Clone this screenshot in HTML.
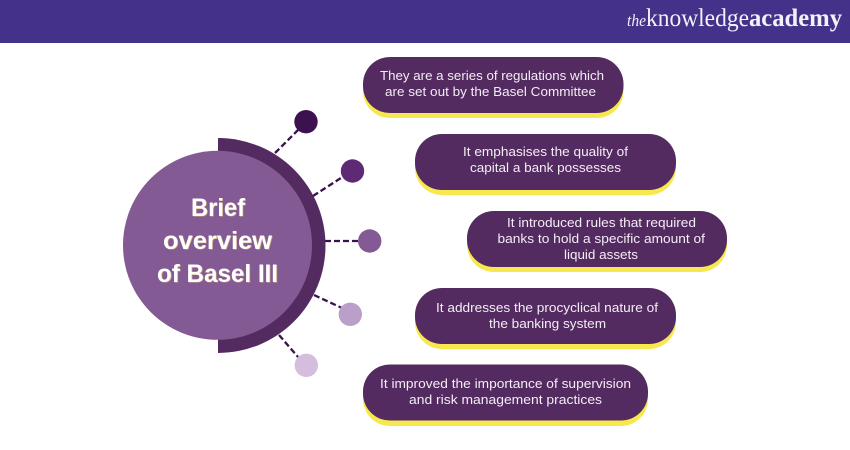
<!DOCTYPE html>
<html>
<head>
<meta charset="utf-8">
<style>
html,body{margin:0;padding:0;background:#fff;width:850px;height:450px;overflow:hidden}
svg{display:block}
.t{font-family:"Liberation Sans",sans-serif;font-size:12.9px;fill:#f3edf5}
.h{font-family:"Liberation Sans",sans-serif;font-size:25px;font-weight:bold;fill:#fff}
.hs{font-family:"Liberation Sans",sans-serif;font-size:25px;font-weight:bold;fill:#c8a878}
.l{font-family:"Liberation Serif",serif;fill:#f3f0f8}
</style>
</head>
<body>
<svg width="850" height="450" viewBox="0 0 850 450" xmlns="http://www.w3.org/2000/svg">
<rect x="0" y="0" width="850" height="43" fill="#43318a"/>
<text class="l" x="627" y="26" font-size="17" font-style="italic" textLength="19" lengthAdjust="spacingAndGlyphs">the</text>
<text class="l" x="646" y="26" font-size="25" textLength="103" lengthAdjust="spacingAndGlyphs">knowledge</text>
<text class="l" x="749" y="26" font-size="25" font-weight="bold" textLength="93" lengthAdjust="spacingAndGlyphs">academy</text>

<g stroke="#3c1150" stroke-width="2.3" stroke-dasharray="6 3" fill="none">
<line x1="275" y1="153" x2="298" y2="130"/>
<line x1="313" y1="196" x2="344" y2="176"/>
<line x1="325" y1="241" x2="358" y2="241"/>
<line x1="314" y1="295" x2="342" y2="308"/>
<line x1="279" y1="335" x2="298" y2="357"/>
</g>
<path d="M218 138 A107.5 107.5 0 0 1 218 353 Z" fill="#542b61"/>
<circle cx="217.5" cy="245.3" r="94.5" fill="#835a93"/>
<circle cx="306" cy="121.7" r="11.7" fill="#3c1150"/>
<circle cx="352.5" cy="171" r="11.7" fill="#5f2a74"/>
<circle cx="369.7" cy="241" r="11.7" fill="#835a93"/>
<circle cx="350.3" cy="314.3" r="11.7" fill="#b99fc9"/>
<circle cx="306.3" cy="365.3" r="11.7" fill="#d4bddd"/>

<text class="hs" x="191.7" y="216.7" textLength="54" lengthAdjust="spacingAndGlyphs">Brief</text>
<text class="hs" x="163.7" y="249.7" textLength="109" lengthAdjust="spacingAndGlyphs">overview</text>
<text class="hs" x="157.7" y="282.7" textLength="121" lengthAdjust="spacingAndGlyphs">of Basel III</text>
<text class="h" x="191" y="216" textLength="54" lengthAdjust="spacingAndGlyphs">Brief</text>
<text class="h" x="163" y="249" textLength="109" lengthAdjust="spacingAndGlyphs">overview</text>
<text class="h" x="157" y="282" textLength="121" lengthAdjust="spacingAndGlyphs">of Basel III</text>

<g fill="#f7e84f">
<rect x="363" y="62" width="260.5" height="56" rx="27"/>
<rect x="415" y="139" width="261" height="56" rx="27"/>
<rect x="467" y="216" width="260" height="56" rx="27"/>
<rect x="415" y="293" width="261" height="56" rx="27"/>
<rect x="363" y="370" width="285" height="56" rx="27"/>
</g>
<g fill="#542b61">
<rect x="363" y="57" width="260.5" height="56" rx="27"/>
<rect x="415" y="134" width="261" height="56" rx="27"/>
<rect x="467" y="211" width="260" height="56" rx="27"/>
<rect x="415" y="288" width="261" height="56" rx="27"/>
<rect x="363" y="364.5" width="285" height="56" rx="27"/>
</g>

<text class="t" x="380" y="80" textLength="224" lengthAdjust="spacingAndGlyphs">They are a series of regulations which</text>
<text class="t" x="385" y="96" textLength="211" lengthAdjust="spacingAndGlyphs">are set out by the Basel Committee</text>
<text class="t" x="463" y="156" textLength="165" lengthAdjust="spacingAndGlyphs">It emphasises the quality of</text>
<text class="t" x="470" y="172" textLength="151" lengthAdjust="spacingAndGlyphs">capital a bank possesses</text>
<text class="t" x="507" y="227" textLength="189" lengthAdjust="spacingAndGlyphs">It introduced rules that required</text>
<text class="t" x="497.5" y="243" textLength="207.5" lengthAdjust="spacingAndGlyphs">banks to hold a specific amount of</text>
<text class="t" x="564" y="259" textLength="74" lengthAdjust="spacingAndGlyphs">liquid assets</text>
<text class="t" x="436" y="312" textLength="222" lengthAdjust="spacingAndGlyphs">It addresses the procyclical nature of</text>
<text class="t" x="489" y="328" textLength="117" lengthAdjust="spacingAndGlyphs">the banking system</text>
<text class="t" x="380" y="388" textLength="251" lengthAdjust="spacingAndGlyphs">It improved the importance of supervision</text>
<text class="t" x="409" y="404" textLength="193" lengthAdjust="spacingAndGlyphs">and risk management practices</text>
</svg>
</body>
</html>
